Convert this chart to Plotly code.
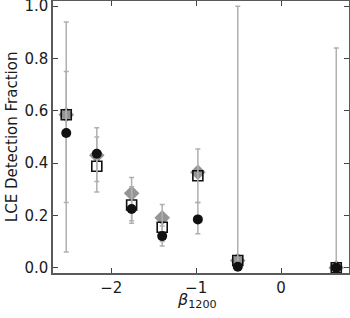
import plotly.graph_objects as go

beta = [-2.53, -2.17, -1.76, -1.40, -0.98, -0.51, 0.65]
circle_vals = [0.515, 0.436, 0.225, 0.121, 0.185, 0.004, 0.0]
square_vals = [0.585, 0.388, 0.240, 0.155, 0.352, 0.028, 0.0]
diamond_vals = [0.585, 0.430, 0.285, 0.191, 0.365, 0.028, 0.0]

errA_lo = [0.06, 0.29, 0.17, 0.083, 0.25, 0.0, 0.0]
errA_hi = [0.94, 0.535, 0.345, 0.242, 0.454, 1.0, 0.84]
errB_lo = [0.25, 0.33, 0.18, 0.10, 0.13]
errB_hi = [0.75, 0.50, 0.31, 0.16, 0.25]

fig = go.Figure()
fig.add_trace(go.Scatter(x=beta, y=diamond_vals, mode="markers",
                         marker=dict(symbol="diamond", size=12, color="#959595",
                                     line=dict(width=0))))
fig.add_trace(go.Scatter(x=beta, y=square_vals, mode="markers",
                         marker=dict(symbol="square-open", size=10, color="#111111",
                                     line=dict(width=1.6))))

def add_err(xs, lo, hi):
    mid = [(a + b) / 2 for a, b in zip(lo, hi)]
    half = [(b - a) / 2 for a, b in zip(lo, hi)]
    fig.add_trace(go.Scatter(x=xs, y=mid, mode="markers",
                             marker=dict(size=1, color="rgba(0,0,0,0)"),
                             error_y=dict(type="data", array=half, visible=True,
                                          color="#b0b0b0", thickness=1.5, width=2.5)))

add_err(beta, errA_lo, errA_hi)
add_err(beta[:5], errB_lo, errB_hi)

fig.add_trace(go.Scatter(x=beta, y=circle_vals, mode="markers",
                         marker=dict(symbol="circle", size=10, color="#111111",
                                     line=dict(width=0))))

axis_common = dict(showline=True, linecolor="#5a5a5a", linewidth=1.5, mirror="allticks",
                   ticks="inside", ticklen=5, tickwidth=1.2, tickcolor="#444444",
                   showgrid=False, zeroline=False, automargin=False,
                   ticklabeloverflow="allow",
                   tickfont=dict(family="DejaVu Sans", size=15, color="#1a1a1a"))

fig.update_layout(
    width=350, height=318,
    margin=dict(l=53, r=1, t=1, b=45),
    paper_bgcolor="white", plot_bgcolor="white",
    showlegend=False,
    font=dict(family="DejaVu Sans", color="#1a1a1a"),
    xaxis=dict(range=[-2.686, 0.80], tickvals=[-2, -1, 0], ticktext=["\u22122", "\u22121", "0"],
               **axis_common),
    yaxis=dict(range=[-0.02, 1.02], tickvals=[0, 0.2, 0.4, 0.6, 0.8, 1.0],
               ticktext=["0.0", "0.2", "0.4", "0.6", "0.8", "1.0"],
               **axis_common),
    annotations=[
        dict(text="<i>β</i><sub>1200</sub>", xref="paper", yref="paper", x=0.485, y=-0.1,
             xanchor="center", yanchor="middle", showarrow=False,
             font=dict(family="DejaVu Sans", size=16, color="#1a1a1a")),
        dict(text="LCE Detection Fraction", xref="paper", yref="paper", x=-0.138, y=0.5,
             xanchor="center", yanchor="middle", textangle=-90, showarrow=False,
             font=dict(family="DejaVu Sans", size=15, color="#1a1a1a")),
    ],
)

fig.write_html("out.html", config={"displayModeBar": False},
               post_script="document.body.style.margin='0';document.body.style.padding='0';")
